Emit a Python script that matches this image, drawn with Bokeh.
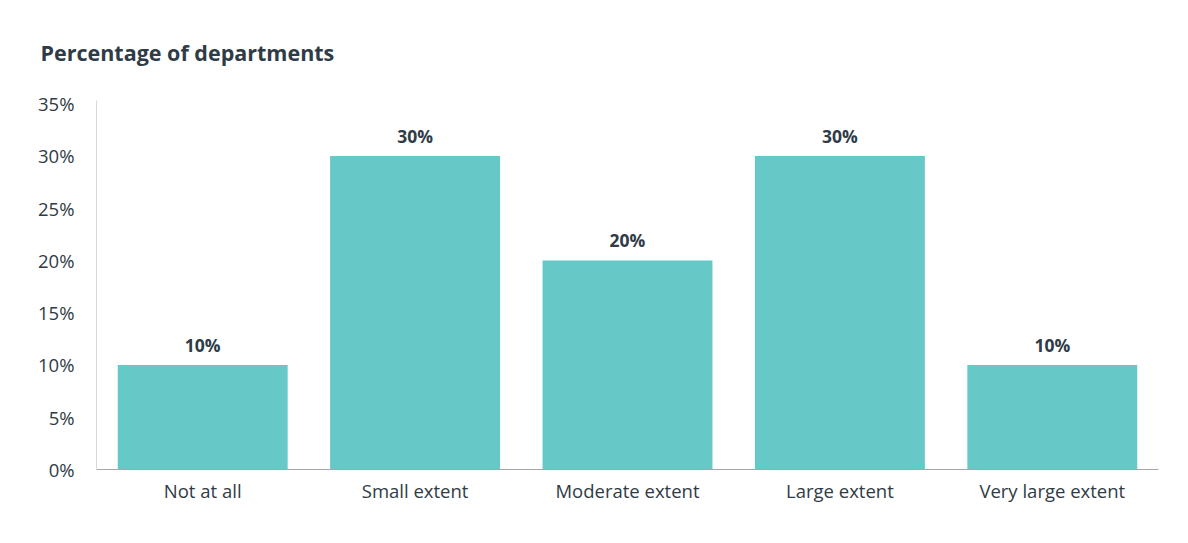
from bokeh.plotting import figure
from bokeh.models import ColumnDataSource, Range1d, FixedTicker, CustomJSTickFormatter
from bokeh.core.properties import value
from bokeh.embed import file_html
from bokeh.resources import INLINE

categories = ["Not at all", "Small extent", "Moderate extent", "Large extent", "Very large extent"]
values = [10, 30, 20, 30, 10]
labels = ["10%", "30%", "20%", "30%", "10%"]
y_ticks = [0, 5, 10, 15, 20, 25, 30, 35]
title_text = "Percentage of departments"

TXT = "#2F3B46"
FONT = "Open Sans"

src = ColumnDataSource(dict(cat=categories, val=values, lab=labels))

p = figure(x_range=categories, y_range=Range1d(0, 35.3), width=1172, height=527,
           output_backend="svg", toolbar_location=None,
           min_border_left=96, min_border_right=14, min_border_top=100, min_border_bottom=58)

p.vbar(x="cat", top="val", width=0.8, source=src, color="#66C9C7", line_color=None)
p.text(x="cat", y="val", text="lab", source=src, text_align="center", text_baseline="bottom",
       y_offset=-8, text_font=value(FONT), text_font_style="bold", text_font_size="17.5px",
       text_color=TXT)

p.title.text = title_text
p.title.text_font = FONT
p.title.text_font_size = "21.5px"
p.title.text_font_style = "bold"
p.title.text_color = TXT
p.title.align = "left"
p.title.vertical_align = "top"
p.title.offset = -56
p.title.standoff = 63

p.xgrid.visible = False
p.ygrid.visible = False
p.outline_line_color = None

p.yaxis.ticker = FixedTicker(ticks=y_ticks)
p.yaxis.formatter = CustomJSTickFormatter(code="return tick + '%';")
p.yaxis.axis_line_color = "#D9D9D9"
p.yaxis.axis_line_width = 1
p.yaxis.major_tick_line_color = None
p.yaxis.minor_tick_line_color = None
p.yaxis.major_label_standoff = 16
p.yaxis.major_label_text_font = FONT
p.yaxis.major_label_text_font_size = "18.5px"
p.yaxis.major_label_text_color = TXT

p.xaxis.axis_line_color = "#A6A6A6"
p.xaxis.axis_line_width = 1
p.xaxis.major_tick_line_color = None
p.xaxis.minor_tick_line_color = None
p.xaxis.major_label_standoff = 2
p.xaxis.major_label_text_font = FONT
p.xaxis.major_label_text_font_size = "18.5px"
p.xaxis.major_label_text_color = TXT

p.x_range.range_padding = 0

open("out.html", "w").write(file_html(p, INLINE))
